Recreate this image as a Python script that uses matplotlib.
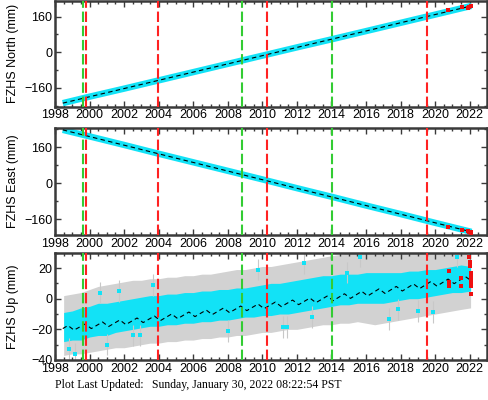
import numpy as np
import matplotlib.pyplot as plt
from matplotlib.ticker import MultipleLocator

# station FZHS, daily positions

# north / east: the cyan band, read every two years
ne_years = [1998.45, 2000, 2002, 2004, 2006, 2008, 2010, 2012, 2014, 2016, 2018, 2020, 2022.1]
north = [-228, -199, -163, -126, -89, -52, -15, 22, 58, 95, 132, 169, 208]
east = [237, 208, 170, 131, 93, 55, 17, -22, -60, -99, -137, -176, -216]

# model line (black dashed), start and end
model_years = [1998.45, 2022.1]
north_model = [-228, 208]
east_model = [237, -216]

# newest solutions in red
red_years = [2020.76, 2021.54, 2021.9, 2021.98, 2022.05, 2022.1]
north_red = [191, 205, 198, 203, 206, 209]
east_red = [-195, -207, -212, -215, -217, -219]

# up: envelope of the cyan cloud and of the grey error bars
up_years = [1998.5, 1999.0, 1999.5, 2000.0, 2000.5, 2001.0, 2001.5, 2002.0, 2002.5,
            2003.0, 2003.5, 2004.0, 2004.5, 2005.0, 2005.5, 2006.0, 2006.5, 2007.0,
            2007.5, 2008.0, 2008.5, 2009.0, 2009.5, 2010.0, 2010.5, 2011.0, 2011.5,
            2012.0, 2012.5, 2013.0, 2013.5, 2014.0, 2014.5, 2015.0, 2015.5, 2016.0,
            2016.5, 2017.0, 2017.5, 2018.0, 2018.5, 2019.0, 2019.5, 2020.0, 2020.5,
            2021.0, 2021.5, 2022.05]
up_lo = [-28, -27, -27, -25, -24, -24, -22, -21, -20, -19, -18, -18, -17, -17, -16,
         -16, -15, -15, -14, -14, -13, -12, -12, -11, -11, -10, -10, -9, -8, -7, -6,
         -5, -4, -4, -3, -3, -3, -3, -2, -1, 0, 0, 1, 2, 3, 4, 4, 5]
up_hi = [-9, -8, -6, -5, -3, -3, -2, -1, 0, 1, 2, 2, 3, 3, 4, 4, 5, 5, 6, 6, 7, 7, 8,
         9, 10, 10, 11, 12, 13, 14, 15, 15, 16, 16, 16, 17, 17, 17, 17, 17, 18, 18,
         19, 19, 20, 21, 22, 21]
err_lo = [-37, -36, -36, -35, -34, -33, -32, -32, -31, -30, -29, -29, -28, -28, -27,
          -27, -26, -26, -25, -25, -24, -24, -23, -22, -22, -21, -20, -20, -19, -18,
          -17, -17, -16, -16, -15, -16, -17, -16, -15, -14, -13, -12, -11, -10, -9, -8,
          -7, -6]
err_hi = [2, 3, 4, 6, 8, 9, 10, 11, 12, 12, 13, 13, 14, 14, 15, 15, 16, 16, 17, 18,
          19, 19, 20, 21, 21, 22, 23, 24, 25, 26, 27, 28, 29, 30, 30, 30, 30, 30, 30,
          30, 30, 30, 30, 30, 30, 30, 30, 30]

# single cyan points outside the cloud
out_years = [1998.8, 1999.16, 2000.6, 2001.0, 2001.7, 2002.5, 2002.9, 2003.7, 2008.0,
             2009.75, 2011.2, 2011.4, 2012.4, 2012.85, 2014.9, 2015.65, 2017.3, 2017.85,
             2019.0, 2019.9, 2021.25]
out_up = [-32.5, -36, 4, -30, 5, -24, -24, 9, -21, 19, -18.6, -18.6, 23, -12, 17, 27.5,
          -13.4, -7, -8, -8.6, 27.5]

# model line for up (seasonal)
upm_years = [1998.45, 1998.75, 1999.1, 1999.75, 2000.1, 2000.75, 2001.1, 2001.75, 2002.1,
             2002.75, 2003.1, 2003.75, 2004.1, 2004.75, 2005.1, 2005.75, 2006.1, 2006.75,
             2007.1, 2007.75, 2008.1, 2008.75, 2009.1, 2009.75, 2010.1, 2010.75, 2011.1,
             2011.75, 2012.1, 2012.75, 2013.1, 2013.75, 2014.1, 2014.75, 2015.1, 2015.75,
             2016.1, 2016.75, 2017.1, 2017.75, 2018.1, 2018.75, 2019.1, 2019.75, 2020.1,
             2020.75, 2021.1, 2021.75, 2022.08]
up_model = [-19.5, -17.5, -20.5, -16.5, -19.5, -15.2, -18.2, -13.9, -16.9, -12.6, -15.6,
            -11.3, -14.3, -10.0, -13.0, -8.7, -11.7, -7.4, -10.4, -6.1, -9.1, -4.8, -7.8,
            -3.5, -6.5, -2.2, -5.2, -0.9, -3.9, 0.4, -2.6, 1.7, -1.3, 3.2, 0.2, 4.8, 1.8,
            6.4, 3.4, 8.0, 5.0, 9.6, 6.6, 11.2, 8.2, 12.8, 9.8, 14.4, 11.8]

up_red_years = [2020.8, 2020.8, 2020.8, 2021.5, 2021.5, 2021.95, 2022.0, 2022.02, 2022.05,
                2022.05, 2022.07, 2022.08, 2022.1, 2022.1]
up_red = [17.8, 10.7, 8, 13.7, 8.1, 27.5, 24, 21, 17, 14, 12, 10, 8, 2.8]

# equipment changes (red) and earthquakes (green)
red_lines = [1999.78, 2003.96, 2010.25, 2019.5]
green_lines = [1999.6, 2008.8, 2014.03]

cyan = '#12e2f6'
spine_col = '#3a3a3a'

plt.rcParams['font.family'] = ['Liberation Sans', 'DejaVu Sans']
plt.rcParams['font.size'] = 9

fig = plt.figure(figsize=(4.88, 4.0), dpi=100)
W, H = 488, 400

def make_ax(top, bottom):
    ax = fig.add_axes([55 / W, 1 - bottom / H, 432 / W, (bottom - top) / H])
    ax.set_xlim(1998, 2023)
    ax.xaxis.set_major_locator(MultipleLocator(2))
    ax.xaxis.set_minor_locator(MultipleLocator(0.5))
    ax.tick_params(which='both', direction='in', top=True, right=True,
                   color=spine_col, labelsize=9, pad=2)
    ax.tick_params(which='major', length=4, width=1)
    ax.tick_params(which='minor', length=2.5, width=1)
    for s in ax.spines.values():
        s.set_linewidth(1.8)
        s.set_color(spine_col)
    for x in red_lines:
        ax.axvline(x, color='#ff2222', lw=1.5, dashes=(5, 1.8), zorder=5)
    for x in green_lines:
        ax.axvline(x, color='#33cc33', lw=1.5, dashes=(5, 1.8), zorder=5)
    return ax

# north
ax1 = make_ax(1, 106.7)
ax1.plot(ne_years, north, color=cyan, lw=4.6, solid_capstyle='butt', zorder=2)
ax1.plot(model_years, north_model, color='black', lw=0.8, dashes=(4, 3), zorder=3)
ax1.plot(red_years, north_red, 's', color='#ee1111', ms=2.5, mew=0, zorder=4)
ax1.set_ylim(-244, 230)
ax1.yaxis.set_major_locator(MultipleLocator(160))
ax1.yaxis.set_minor_locator(MultipleLocator(80))
ax1.set_ylabel('FZHS North (mm)', fontsize=9)
ax1.yaxis.set_label_coords(-0.083, 0.5)

# east
ax2 = make_ax(128.3, 235)
ax2.plot(ne_years, east, color=cyan, lw=4.6, solid_capstyle='butt', zorder=2)
ax2.plot(model_years, east_model, color='black', lw=0.8, dashes=(4, 3), zorder=3)
ax2.plot(red_years, east_red, 's', color='#ee1111', ms=2.5, mew=0, zorder=4)
ax2.set_ylim(-230, 244)
ax2.yaxis.set_major_locator(MultipleLocator(160))
ax2.yaxis.set_minor_locator(MultipleLocator(80))
ax2.set_ylabel('FZHS East (mm)', fontsize=9)
ax2.yaxis.set_label_coords(-0.083, 0.5)

# up
ax3 = make_ax(252.7, 360)
ax3.fill_between(up_years, err_lo, err_hi, color='#d2d2d2', lw=0, zorder=1)
ax3.fill_between(up_years, up_lo, up_hi, color=cyan, lw=0, zorder=2)
ax3.errorbar(out_years, out_up, yerr=7, fmt='s', color=cyan, ms=2.5, mew=0,
             ecolor='#c8c8c8', elinewidth=0.8, capsize=1.5, zorder=2)
ax3.plot(upm_years, up_model, color='black', lw=0.8, dashes=(4, 3), zorder=3)
ax3.plot(up_red_years, up_red, 's', color='#ee1111', ms=2.5, mew=0, zorder=4)
ax3.set_ylim(-40, 30)
ax3.yaxis.set_major_locator(MultipleLocator(20))
ax3.yaxis.set_minor_locator(MultipleLocator(10))
ax3.set_ylabel('FZHS Up (mm)', fontsize=9)
ax3.yaxis.set_label_coords(-0.083, 0.5)

fig.text(55 / W, 1 - 385 / H, 'Plot Last Updated:', family='Liberation Serif',
         fontsize=8.5, va='center')
fig.text(152 / W, 1 - 385 / H, 'Sunday, January 30, 2022 08:22:54 PST',
         family='Liberation Serif', fontsize=8.5, va='center')

fig.savefig('out.png', dpi=100)
